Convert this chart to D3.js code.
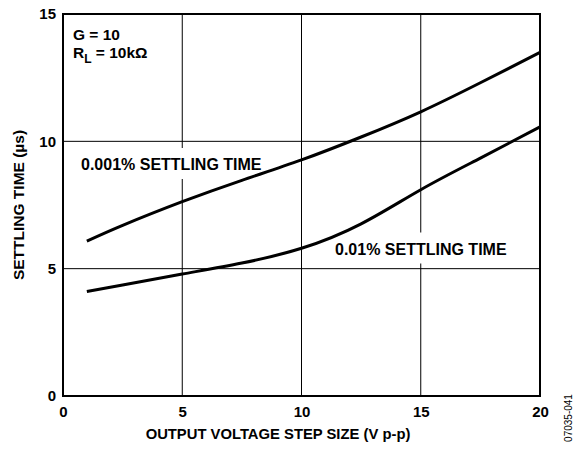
<!DOCTYPE html>
<html>
<head>
<meta charset="utf-8">
<script src="https://cdn.jsdelivr.net/npm/d3@7"></script>
<style>
  body { margin: 0; background: #fff; }
  svg text { font-family: "Liberation Sans", Arial, sans-serif; fill: #000; }
</style>
</head>
<body>
<div id="chart"></div>
<script>
// Data.
const stepSize = [1, 2.5, 5, 7.5, 10, 12.5, 15, 17.5, 20];
const settle0001 = [6.08, 6.7, 7.63, 8.47, 9.27, 10.17, 11.16, 12.3, 13.49];
const settle001 = [4.1, 4.36, 4.79, 5.22, 5.8, 6.76, 8.1, 9.34, 10.57];
const xTicks = [0, 5, 10, 15, 20];
const yTicks = [0, 5, 10, 15];

const W = 573, H = 450;
const margin = { top: 14, right: 33, bottom: 54, left: 63 };
const width = W - margin.left - margin.right;
const height = H - margin.top - margin.bottom;

const svg = d3.select('#chart').append('svg')
  .attr('width', W).attr('height', H)
  .style('display', 'block');

const g = svg.append('g')
  .attr('transform', `translate(${margin.left},${margin.top})`);

const x = d3.scaleLinear().domain([0, 20]).range([0, width]);
const y = d3.scaleLinear().domain([0, 15]).range([height, 0]);

// Grid lines
g.selectAll('line.vgrid').data(xTicks.slice(1, -1)).enter().append('line')
  .attr('x1', d => x(d)).attr('x2', d => x(d))
  .attr('y1', 0).attr('y2', height)
  .attr('stroke', '#000').attr('stroke-width', 1);
g.selectAll('line.hgrid').data(yTicks.slice(1, -1)).enter().append('line')
  .attr('x1', 0).attr('x2', width)
  .attr('y1', d => y(d)).attr('y2', d => y(d))
  .attr('stroke', '#000').attr('stroke-width', 1);

// Axes (labels only, no tick marks)
const xAxis = d3.axisBottom(x).tickValues(xTicks).tickSize(0).tickPadding(10);
const yAxis = d3.axisLeft(y).tickValues(yTicks).tickSize(0).tickPadding(7);

const xg = g.append('g').attr('transform', `translate(0,${height})`).call(xAxis);
const yg = g.append('g').call(yAxis);
[xg, yg].forEach(a => {
  a.select('.domain').remove();
  a.selectAll('text')
    .style('font-size', '15px').style('font-weight', 'bold')
    .style('font-family', '"Liberation Sans", Arial, sans-serif');
});

// Curve labels with white background (they cover the grid)
function boxLabel(txt, lx, ly) {
  const t = g.append('text')
    .attr('x', lx).attr('y', ly)
    .style('font-size', '16px').style('font-weight', 'bold')
    .text(txt);
  const bb = t.node().getBBox();
  g.insert('rect', () => t.node())
    .attr('x', bb.x - 4).attr('y', bb.y - 8)
    .attr('width', bb.width + 8).attr('height', bb.height + 14)
    .attr('fill', '#fff');
}
boxLabel('0.001% SETTLING TIME', 18, 156);
boxLabel('0.01% SETTLING TIME', 272, 240.5);

// Curves
const line = d3.line()
  .x((d, i) => x(stepSize[i]))
  .y(d => y(d))
  .curve(d3.curveNatural);

[settle0001, settle001].forEach(s => {
  g.append('path')
    .attr('d', line(s))
    .attr('fill', 'none')
    .attr('stroke', '#000')
    .attr('stroke-width', 3);
});

// Frame
g.append('rect')
  .attr('x', 0).attr('y', 0).attr('width', width).attr('height', height)
  .attr('fill', 'none').attr('stroke', '#000').attr('stroke-width', 2);

// Conditions
g.append('text')
  .attr('x', 10).attr('y', 25.5)
  .style('font-size', '15.5px').style('font-weight', 'bold')
  .text('G = 10');
const r = g.append('text')
  .attr('x', 10).attr('y', 44)
  .style('font-size', '15.5px').style('font-weight', 'bold');
r.append('tspan').text('R');
r.append('tspan').attr('dy', 5).style('font-size', '12px').text('L');
r.append('tspan').attr('dy', -5).text(' = 10kΩ');

// Axis titles
svg.append('text')
  .attr('x', 278).attr('y', 439)
  .attr('text-anchor', 'middle')
  .style('font-size', '14.8px').style('font-weight', 'bold')
  .text('OUTPUT VOLTAGE STEP SIZE (V p-p)');

svg.append('text')
  .attr('transform', `translate(24,${margin.top + height / 2}) rotate(-90)`)
  .attr('text-anchor', 'middle')
  .style('font-size', '15.5px').style('font-weight', 'bold')
  .text('SETTLING TIME (µs)');

// Figure id
svg.append('text')
  .attr('transform', 'translate(572,418) rotate(-90)')
  .attr('text-anchor', 'middle')
  .style('font-size', '10px')
  .text('07035-041');
</script>
</body>
</html>
